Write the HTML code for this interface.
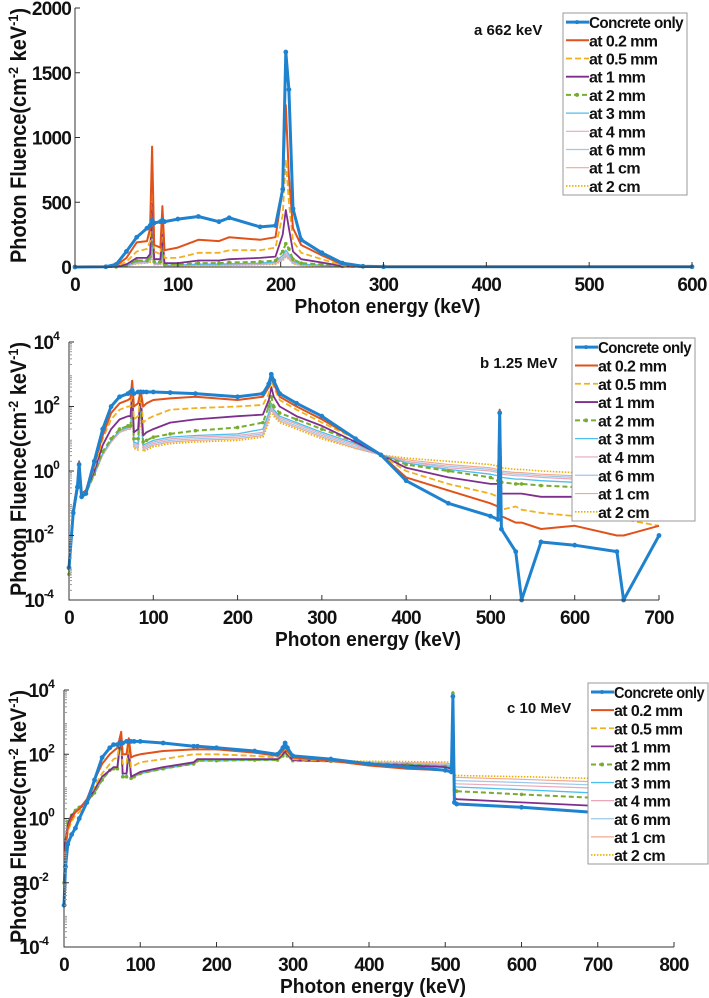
<!DOCTYPE html>
<html><head><meta charset="utf-8"><style>
html,body{margin:0;padding:0;background:#fff;}
svg{display:block;font-family:"Liberation Sans",sans-serif;font-weight:bold;}
</style></head><body>
<svg id="fig" width="709" height="998" viewBox="0 0 709 998" xmlns="http://www.w3.org/2000/svg"></svg>
<script>
// ---------- shared series ----------
const seriesNames = ["Concrete only","at 0.2 mm","at 0.5 mm","at 1 mm","at 2 mm","at 3 mm","at 4 mm","at 6 mm","at 1 cm","at 2 cm"];
const seriesColors = ["#1f82cf","#e0521a","#f0b020","#7e2f8e","#77ac30","#4dbeee","#e8a8b8","#9cc8ec","#f2a890","#e8b000"];

// ---------- panel a (662 keV, linear) ----------
const aEnergy = [0,30,40,50,60,70,73,75,77,83,85,87,100,120,140,150,180,195,202,205,208,212,220,240,260,280,300,600];
const aConcrete = [0,2,20,120,230,300,320,360,340,350,360,350,370,390,350,380,310,320,600,1660,1370,450,210,110,30,6,2,2];
const a02mm = [0,1,10,70,190,200,300,930,170,150,470,130,150,210,200,230,210,230,600,1250,700,300,170,90,20,3,1,1];
const a05mm = [0,1,5,40,120,140,200,800,120,100,350,70,70,110,110,130,130,150,400,830,500,200,110,60,12,2,1,1];
const a1mm = [0,0,2,20,70,70,100,490,60,60,250,30,30,50,50,60,70,80,250,440,300,120,60,35,8,1,0,0];
const a2mm = [0,0,1,15,50,50,80,300,40,40,150,20,20,30,30,35,40,50,120,180,140,60,30,20,5,1,0,0];
const a3mm = [0,0,1,12,40,45,60,200,30,30,100,15,15,22,22,25,30,40,90,130,100,45,22,15,4,1,0,0];
const a4mm = [0,0,1,10,35,40,50,150,25,25,80,12,12,18,18,20,25,32,75,110,85,38,18,12,3,0,0,0];
const a6mm = [0,0,1,9,30,35,45,120,22,22,65,10,10,15,15,17,22,28,65,95,75,32,15,10,3,0,0,0];
const a1cm = [0,0,1,8,28,32,40,100,20,20,55,9,9,13,13,15,19,25,55,85,65,28,13,9,2,0,0,0];
const a2cm = [0,0,0,7,25,30,35,80,18,18,45,8,8,12,12,13,17,22,50,75,60,25,12,8,2,0,0,0];
const aXTicks = [0,100,200,300,400,500,600];
const aYTicks = [0,500,1000,1500,2000];

// ---------- panel b (1.25 MeV, log10 fluence) ----------
const bEnergy = [0,5,10,12,15,20,30,40,50,60,70,73,75,77,82,85,88,92,100,120,150,200,230,237,240,243,250,270,300,340,370,400,450,500,509,511,513,530,537,560,600,650,658,700];
const bConcrete = [-3,-1.3,-0.5,0.2,-0.8,-0.7,0.3,1.3,2.0,2.3,2.4,2.45,2.5,2.4,2.45,2.45,2.45,2.45,2.45,2.43,2.4,2.3,2.4,2.7,3.0,2.8,2.4,2.1,1.7,1.0,0.5,-0.3,-1,-1.4,-1.5,1.8,-1.8,-2.5,-4,-2.2,-2.3,-2.5,-4,-2];
const b02mm = [-3,-1.2,-0.4,0.3,-0.7,-0.6,0.2,1.1,1.8,2.1,2.2,2.25,2.8,2.0,2.1,2.5,2.0,2.1,2.2,2.25,2.3,2.2,2.3,2.6,2.9,2.7,2.3,2.0,1.6,1.0,0.5,-0.2,-0.6,-1.0,-1.1,1.9,-1.4,-1.6,-1.6,-1.8,-1.7,-2,-2.0,-1.7];
const b05mm = [-3,-1.2,-0.4,0.2,-0.7,-0.6,0.1,1.0,1.6,1.9,2.0,2.0,2.7,1.6,1.7,2.4,1.5,1.6,1.7,1.9,1.95,2.0,2.05,2.4,2.8,2.6,2.2,1.9,1.5,1.0,0.5,0,-0.4,-0.7,-0.8,1.9,-1.2,-1.1,-1.2,-1.3,-1.4,-1.5,-1.5,-1.7];
const b1mm = [-3,-1.2,-0.4,0.2,-0.7,-0.6,0,0.8,1.3,1.6,1.7,1.7,2.5,1.2,1.3,2.4,1.1,1.2,1.3,1.5,1.6,1.7,1.75,2.2,2.6,2.3,2.0,1.7,1.4,0.9,0.5,0.1,-0.2,-0.4,-0.4,1.9,-0.7,-0.7,-0.7,-0.8,-0.8,-0.9,-0.9,-1.0];
const b2mm = [-3.2,-1.3,-0.5,0.2,-0.8,-0.7,-0.1,0.6,1.0,1.3,1.4,1.4,2.3,1.0,1.0,2.3,0.9,0.95,1.05,1.15,1.25,1.35,1.5,2.0,2.3,2.0,1.8,1.6,1.3,0.9,0.5,0.2,0,-0.2,-0.3,1.8,-0.35,-0.4,-0.4,-0.45,-0.5,-0.55,-0.55,-0.6];
const b3mm = [-3.2,-1.3,-0.5,0.2,-0.8,-0.7,-0.1,0.55,0.95,1.25,1.35,1.35,2.2,0.9,0.85,2.2,0.8,0.85,0.95,1.05,1.1,1.15,1.3,1.8,2.1,1.9,1.7,1.5,1.2,0.85,0.5,0.25,0.05,-0.1,-0.15,1.8,-0.2,-0.25,-0.25,-0.3,-0.35,-0.4,-0.4,-0.45];
const b4mm = [-3.2,-1.3,-0.5,0.2,-0.8,-0.7,-0.1,0.5,0.9,1.2,1.3,1.3,2.1,0.85,0.8,2.1,0.75,0.8,0.9,1.0,1.05,1.1,1.2,1.7,2.05,1.85,1.65,1.45,1.15,0.8,0.5,0.3,0.1,0,-0.05,1.8,-0.1,-0.15,-0.15,-0.2,-0.25,-0.3,-0.3,-0.35];
const b6mm = [-3.2,-1.3,-0.5,0.2,-0.8,-0.7,-0.1,0.5,0.9,1.2,1.3,1.3,2.0,0.8,0.75,2.0,0.7,0.75,0.85,0.95,1.0,1.05,1.15,1.65,2.0,1.8,1.6,1.4,1.1,0.75,0.5,0.3,0.15,0.05,0,1.8,-0.05,-0.1,-0.1,-0.15,-0.2,-0.25,-0.25,-0.3];
const b1cm = [-3.2,-1.3,-0.5,0.2,-0.8,-0.7,-0.1,0.5,0.9,1.2,1.3,1.3,1.9,0.75,0.7,1.9,0.65,0.7,0.8,0.9,0.95,1.0,1.1,1.6,1.95,1.75,1.55,1.35,1.05,0.7,0.5,0.35,0.2,0.1,0.05,1.9,0,-0.05,-0.05,-0.1,-0.15,-0.2,-0.2,-0.25];
const b2cm = [-3.2,-1.3,-0.5,0.2,-0.8,-0.7,-0.1,0.5,0.9,1.2,1.3,1.3,1.8,0.7,0.65,1.8,0.6,0.65,0.75,0.85,0.9,0.95,1.05,1.5,1.9,1.7,1.5,1.3,1.0,0.7,0.5,0.4,0.3,0.2,0.15,1.9,0.1,0.05,0.05,0,-0.05,-0.1,-0.1,-0.15];
const bXTicks = [0,100,200,300,400,500,600,700];
const logYTicks = [4,2,0,-2,-4];

// ---------- panel c (10 MeV, log10 fluence) ----------
const cEnergy = [0,2,5,10,15,20,30,40,50,60,65,70,73,75,77,82,85,88,92,100,130,170,175,200,250,280,287,290,293,300,350,400,450,500,508,510,512,515,600,690];
const cConcrete = [-2.7,-1.5,-0.8,-0.5,-0.3,0,0.5,1.2,1.9,2.2,2.3,2.3,2.35,2.35,2.35,2.4,2.4,2.4,2.4,2.4,2.35,2.25,2.25,2.2,2.1,2.0,2.2,2.35,2.2,1.95,1.85,1.7,1.6,1.5,1.45,3.8,0.5,0.45,0.35,0.2];
const c02mm = [-2,-1,-0.3,0,0.2,0.3,0.6,1.2,1.7,2.0,2.1,2.2,2.5,2.7,2.0,2.0,2.5,1.9,1.95,2.0,2.1,2.15,2.15,2.15,2.05,1.95,2.1,2.25,2.1,1.9,1.8,1.65,1.55,1.5,1.45,3.8,0.5,0.45,0.35,0.2];
const c05mm = [-2,-1,-0.4,-0.1,0.1,0.2,0.5,1.0,1.4,1.7,1.85,1.9,2.4,2.6,1.7,1.7,2.3,1.6,1.65,1.75,1.85,2.0,2.0,2.0,1.95,1.9,2.05,2.2,2.05,1.85,1.78,1.66,1.58,1.52,1.5,3.85,0.5,0.45,0.35,0.2];
const c1mm = [-2,-0.7,-0.2,0.1,0.2,0.3,0.5,0.9,1.3,1.5,1.6,1.6,2.3,2.5,1.4,1.4,2.2,1.3,1.35,1.45,1.6,1.75,1.85,1.85,1.85,1.85,2.0,2.1,2.0,1.82,1.78,1.7,1.65,1.6,1.55,3.85,0.65,0.6,0.5,0.4];
const c2mm = [-2,-0.7,-0.1,0.1,0.25,0.35,0.5,0.8,1.2,1.5,1.55,1.55,2.2,2.4,1.3,1.3,2.1,1.25,1.3,1.4,1.55,1.7,1.8,1.8,1.82,1.82,1.95,2.05,1.95,1.8,1.78,1.72,1.68,1.62,1.6,3.9,0.9,0.85,0.75,0.65];
const c3mm = [-2,-0.7,-0.1,0.1,0.25,0.35,0.5,0.8,1.2,1.5,1.55,1.55,2.2,2.4,1.3,1.3,2.1,1.25,1.3,1.4,1.55,1.7,1.8,1.8,1.82,1.82,1.95,2.05,1.95,1.8,1.78,1.72,1.68,1.64,1.62,3.9,1.0,0.98,0.9,0.8];
const c4mm = [-2,-0.7,-0.1,0.1,0.25,0.35,0.5,0.8,1.2,1.5,1.55,1.55,2.2,2.4,1.3,1.3,2.1,1.25,1.3,1.4,1.55,1.7,1.8,1.8,1.82,1.82,1.95,2.05,1.95,1.8,1.78,1.73,1.7,1.66,1.64,3.9,1.1,1.08,1.02,0.95];
const c6mm = [-2,-0.7,-0.1,0.1,0.25,0.35,0.5,0.8,1.2,1.5,1.55,1.55,2.2,2.4,1.3,1.3,2.1,1.25,1.3,1.4,1.55,1.7,1.8,1.8,1.82,1.82,1.95,2.05,1.95,1.8,1.78,1.74,1.72,1.68,1.67,3.9,1.2,1.18,1.12,1.05];
const c1cm = [-2,-0.7,-0.1,0.1,0.25,0.35,0.5,0.8,1.2,1.5,1.55,1.55,2.2,2.4,1.3,1.3,2.1,1.25,1.3,1.4,1.55,1.7,1.8,1.8,1.82,1.82,1.95,2.05,1.95,1.8,1.79,1.76,1.74,1.72,1.7,3.9,1.3,1.28,1.22,1.15];
const c2cm = [-2,-0.7,-0.1,0.1,0.25,0.35,0.5,0.8,1.2,1.5,1.55,1.55,2.2,2.4,1.3,1.3,2.1,1.25,1.3,1.4,1.55,1.7,1.8,1.8,1.82,1.82,1.95,2.05,1.95,1.8,1.8,1.78,1.77,1.76,1.75,3.95,1.36,1.34,1.3,1.25];
const cXTicks = [0,100,200,300,400,500,600,700,800];

const NS = "http://www.w3.org/2000/svg";
const fig = document.getElementById("fig");
function mk(tag, attrs, parent){
  const e = document.createElementNS(NS, tag);
  for (const k in attrs) e.setAttribute(k, attrs[k]);
  (parent || fig).appendChild(e);
  return e;
}
const dashes = ["", "", "6,3", "", "5,3", "", "", "", "", "1.5,1.5"];
const widths = [3, 2, 1.8, 1.8, 2, 1.3, 1.2, 1.2, 1.2, 1.6];

function drawPanel(cfg){
  const g = mk("g", {});
  
  
  const sx = v => cfg.L + (v - cfg.x0) / (cfg.x1 - cfg.x0) * (cfg.R - cfg.L);
  const sy = v => cfg.B - (v - cfg.y0) / (cfg.y1 - cfg.y0) * (cfg.B - cfg.T);

  for (let s = 9; s >= 0; s--){
    const ys = cfg.series[s];
    const pts = cfg.energy.map((e, i) => sx(e).toFixed(1) + "," + sy(Math.max(cfg.y0, Math.min(cfg.y1, ys[i]))).toFixed(1)).join(" ");
    const pl = mk("polyline", {points: pts, fill: "none", stroke: seriesColors[s], "stroke-width": widths[s], "stroke-dasharray": dashes[s], "stroke-linejoin": "round"}, g);
    
    
    if (s === 0 || s === 4){
      cfg.energy.forEach((e, i) => {
        const m = mk("circle", {cx: sx(e), cy: sy(Math.max(cfg.y0, Math.min(cfg.y1, ys[i]))), r: s === 0 ? 2.4 : 1.8, fill: seriesColors[s]}, g);
        
        
      });
    }
  }
  const ax = mk("path", {d: `M${cfg.L},${cfg.T} V${cfg.B} H${cfg.R}`, fill: "none", stroke: "#333", "stroke-width": 1}, g);
  
  
  cfg.xTicks.forEach(t => {
    const x = sx(t);
    mk("line", {x1: x, x2: x, y1: cfg.B, y2: cfg.B - 5, stroke: "#333"}, g);
    const tx = mk("text", {x: x, y: cfg.B + 24, "text-anchor": "middle", "font-size": 19, "letter-spacing": -0.8, fill: "#111"}, g);
    tx.textContent = t;
    
    
  });
  cfg.yTicks.forEach(t => {
    const y = sy(t);
    mk("line", {x1: cfg.L, x2: cfg.L + 5, y1: y, y2: y, stroke: "#333"}, g);
    const tx = mk("text", {x: cfg.L - 4, y: y + 7, "text-anchor": "end", "font-size": 19, "letter-spacing": -0.8, fill: "#111"}, g);
    
    
    if (cfg.log){
      tx.setAttribute("x", cfg.L - 16 + (t < 0 ? 0 : 6));
      tx.textContent = "10";
      const sp = mk("tspan", {dy: -9, "font-size": 12}, tx);
      sp.textContent = t;
    } else tx.textContent = t;
  });
  if (cfg.log){
    for (let d = cfg.y0; d < cfg.y1; d++){
      for (let k = 2; k < 10; k++){
        const y = sy(d + Math.log10(k));
        mk("line", {x1: cfg.L, x2: cfg.L + 3, y1: y, y2: y, stroke: "#999"}, g);
      }
    }
  }
  const xl = mk("text", {x: (cfg.L + cfg.R) / 2 + 4, y: cfg.B + 46, "text-anchor": "middle", "font-size": 20, fill: "#111", textLength: 186, lengthAdjust: "spacingAndGlyphs"}, g);
  xl.textContent = "Photon energy (keV)";
  
  
  const cy = (cfg.T + cfg.B) / 2 - 2;
  const yl = mk("text", {x: 0, y: 0, transform: `translate(26,${cy}) rotate(-90)`, "text-anchor": "middle", "font-size": 22, fill: "#111", textLength: cfg.B - cfg.T - 4, lengthAdjust: "spacingAndGlyphs"}, g);
  
  
  yl.appendChild(document.createTextNode("Photon Fluence(cm"));
  const s1 = mk("tspan", {dy: -8, "font-size": 14}, yl); s1.textContent = "-2";
  const s2 = mk("tspan", {dy: 8}, yl); s2.textContent = " keV";
  const s3 = mk("tspan", {dy: -8, "font-size": 14}, yl); s3.textContent = "-1";
  const s4 = mk("tspan", {dy: 8}, yl); s4.textContent = ")";
  const tag = mk("text", {x: cfg.tagX, y: cfg.tagY, "font-size": 15, fill: "#111"}, g);
  
  
  tag.textContent = cfg.tag;
  const lg = mk("g", {}, g);
  
  
  mk("rect", {x: cfg.lg[0], y: cfg.lg[1], width: cfg.lg[2], height: cfg.lg[3], fill: "#fff", stroke: "#999", "stroke-width": 1}, lg);
  const rh = cfg.lg[3] / 10;
  seriesNames.forEach((n, i) => {
    const yy = cfg.lg[1] + rh * (i + 0.5);
    const en = mk("g", {}, lg);
    
    
    mk("line", {x1: cfg.lg[0] + 3, x2: cfg.lg[0] + 26, y1: yy, y2: yy, stroke: seriesColors[i], "stroke-width": widths[i], "stroke-dasharray": dashes[i]}, en);
    if (i === 0 || i === 4) mk("circle", {cx: cfg.lg[0] + 14, cy: yy, r: 2, fill: seriesColors[i]}, en);
    const t = mk("text", {x: cfg.lg[0] + 26, y: yy + 6, "font-size": 16, "letter-spacing": -0.6, fill: "#111"}, en);
    if (i === 0) { t.setAttribute("textLength", cfg.lg[2] - 30); t.setAttribute("lengthAdjust", "spacingAndGlyphs"); }
    t.textContent = n;
  });
}

drawPanel({name: "panel-a-662kev", L: 75, R: 692, T: 8, B: 267, x0: 0, x1: 600, y0: 0, y1: 2000, log: false,
  energy: aEnergy, series: [aConcrete,a02mm,a05mm,a1mm,a2mm,a3mm,a4mm,a6mm,a1cm,a2cm],
  xTicks: aXTicks, yTicks: aYTicks, tag: "a  662 keV", tagX: 474, tagY: 35, lg: [563, 13, 124, 182]});
drawPanel({name: "panel-b-1-25mev", L: 69, R: 659, T: 342, B: 600, x0: 0, x1: 700, y0: -4, y1: 4, log: true,
  energy: bEnergy, series: [bConcrete,b02mm,b05mm,b1mm,b2mm,b3mm,b4mm,b6mm,b1cm,b2cm],
  xTicks: bXTicks, yTicks: logYTicks, tag: "b  1.25 MeV", tagX: 480, tagY: 368, lg: [572, 338, 123, 183]});
drawPanel({name: "panel-c-10mev", L: 64, R: 674, T: 690, B: 947, x0: 0, x1: 800, y0: -4, y1: 4, log: true,
  energy: cEnergy, series: [cConcrete,c02mm,c05mm,c1mm,c2mm,c3mm,c4mm,c6mm,c1cm,c2cm],
  xTicks: cXTicks, yTicks: logYTicks, tag: "c  10 MeV", tagX: 507, tagY: 713, lg: [588, 683, 120, 181]});
</script>
</body></html>
